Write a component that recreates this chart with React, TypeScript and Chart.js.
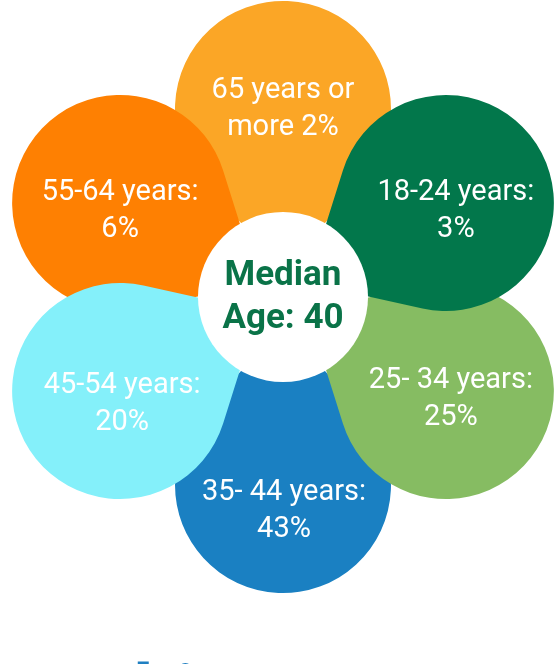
import React, { useEffect, useRef } from "react";
import { Chart, registerables } from "chart.js";

Chart.register(...registerables);

// ---- data ----
const categoryHeads = ["18-24 years:", "25- 34 years:", "35- 44 years:", "45-54 years:", "55-64 years:", "65 years or"];
const categoryTails = ["", "", "", "", "", "more "];
const shares = [3, 25, 43, 20, 6, 2];
const centerLines = ["Median", "Age: 40"];
const footerTitle = "Ranking";

// ---- styles ----
const petalColors = ["#02774B", "#86BC62", "#1A80C2", "#84F0FA", "#FE8002", "#FBA626"];
const drawOrder = [5, 2, 4, 3, 1, 0];
const labelNudges: [number, number][] = [[10, 5], [5, 5], [1, 23], [2, 10], [0, 5], [0, -3]];
const PETAL_DIST = 0.694;
const PETAL_R = 0.3985;
const HUB_R = 0.3137;
const TIP_RATIO = 0.85;
const FONT = "Roboto, 'Noto Sans', sans-serif";

function drawPetal(ctx: CanvasRenderingContext2D, px: number, py: number, r: number, tx: number, ty: number, color: string) {
  const dx = tx - px;
  const dy = ty - py;
  const D = Math.hypot(dx, dy);
  const phi = Math.atan2(dy, dx);
  const a = Math.acos(Math.min(1, r / D));
  ctx.beginPath();
  ctx.moveTo(tx, ty);
  ctx.lineTo(px + r * Math.cos(phi + a), py + r * Math.sin(phi + a));
  ctx.arc(px, py, r, phi + a, phi - a + 2 * Math.PI, false);
  ctx.closePath();
  ctx.fillStyle = color;
  ctx.fill();
}

const flowerPlugin = {
  id: "flower",
  afterDatasetsDraw(chart: any) {
    const meta = chart.getDatasetMeta(0);
    const scale = chart.scales.r;
    const cx = scale.xCenter;
    const cy = scale.yCenter;
    const R = scale.drawingArea;
    const ctx: CanvasRenderingContext2D = chart.ctx;
    const geo = meta.data.map((arc: any) => {
      const mid = (arc.startAngle + arc.endAngle) / 2;
      const px = cx + Math.cos(mid) * R * PETAL_DIST;
      const py = cy + Math.sin(mid) * R * PETAL_DIST;
      return { px, py, tx: px + (cx - px) * TIP_RATIO, ty: py + (cy - py) * TIP_RATIO };
    });
    ctx.save();
    drawOrder.forEach((i) => {
      const g = geo[i];
      if (!g) return;
      drawPetal(ctx, g.px, g.py, R * PETAL_R, g.tx, g.ty, petalColors[i]);
    });
    // hub
    ctx.beginPath();
    ctx.arc(cx, cy, R * HUB_R, 0, Math.PI * 2);
    ctx.fillStyle = "#ffffff";
    ctx.fill();
    // petal labels
    ctx.fillStyle = "#ffffff";
    ctx.textAlign = "center";
    ctx.textBaseline = "alphabetic";
    ctx.font = `29px ${FONT}`;
    geo.forEach((g: any, i: number) => {
      const [nx, ny] = labelNudges[i];
      ctx.fillText(categoryHeads[i], g.px + nx, g.py - 8 + ny);
      ctx.fillText(`${categoryTails[i]}${shares[i]}%`, g.px + nx, g.py + 29 + ny);
    });
    // hub text
    ctx.fillStyle = "#0A7348";
    ctx.font = `bold 35px ${FONT}`;
    ctx.fillText(centerLines[0], cx, cy - 12);
    ctx.fillText(centerLines[1], cx, cy + 31);
    ctx.restore();
  },
};

export default function App() {
  const ref = useRef<HTMLCanvasElement | null>(null);
  useEffect(() => {
    if (!ref.current) return;
    const chart = new Chart(ref.current, {
      type: "polarArea",
      data: {
        labels: categoryHeads.map((h, i) => `${h} ${categoryTails[i]}`.trim()),
        datasets: [
          {
            data: shares,
            backgroundColor: "rgba(0,0,0,0)",
            borderWidth: 0,
          },
        ],
      },
      options: {
        responsive: false,
        animation: false,
        layout: { padding: { left: 12, right: 0, top: 0, bottom: 0 } },
        scales: {
          r: { display: false, startAngle: 30, beginAtZero: true },
        },
        plugins: {
          legend: { display: false },
          tooltip: { enabled: false },
        },
      },
      plugins: [flowerPlugin],
    });
    return () => chart.destroy();
  }, []);
  return (
    <div style={{ position: "absolute", left: 0, top: 0, width: 555, height: 664, overflow: "hidden", background: "#fff" }}>
      <canvas ref={ref} width={555} height={594} style={{ display: "block", width: 555, height: 594 }} />
      <h1
        style={{
          position: "absolute",
          left: -2,
          top: 655,
          margin: 0,
          fontFamily: FONT,
          fontWeight: 700,
          fontSize: 78,
          lineHeight: 1,
          color: "#1F7FC1",
          whiteSpace: "nowrap",
        }}
      >
        {footerTitle}
      </h1>
    </div>
  );
}
